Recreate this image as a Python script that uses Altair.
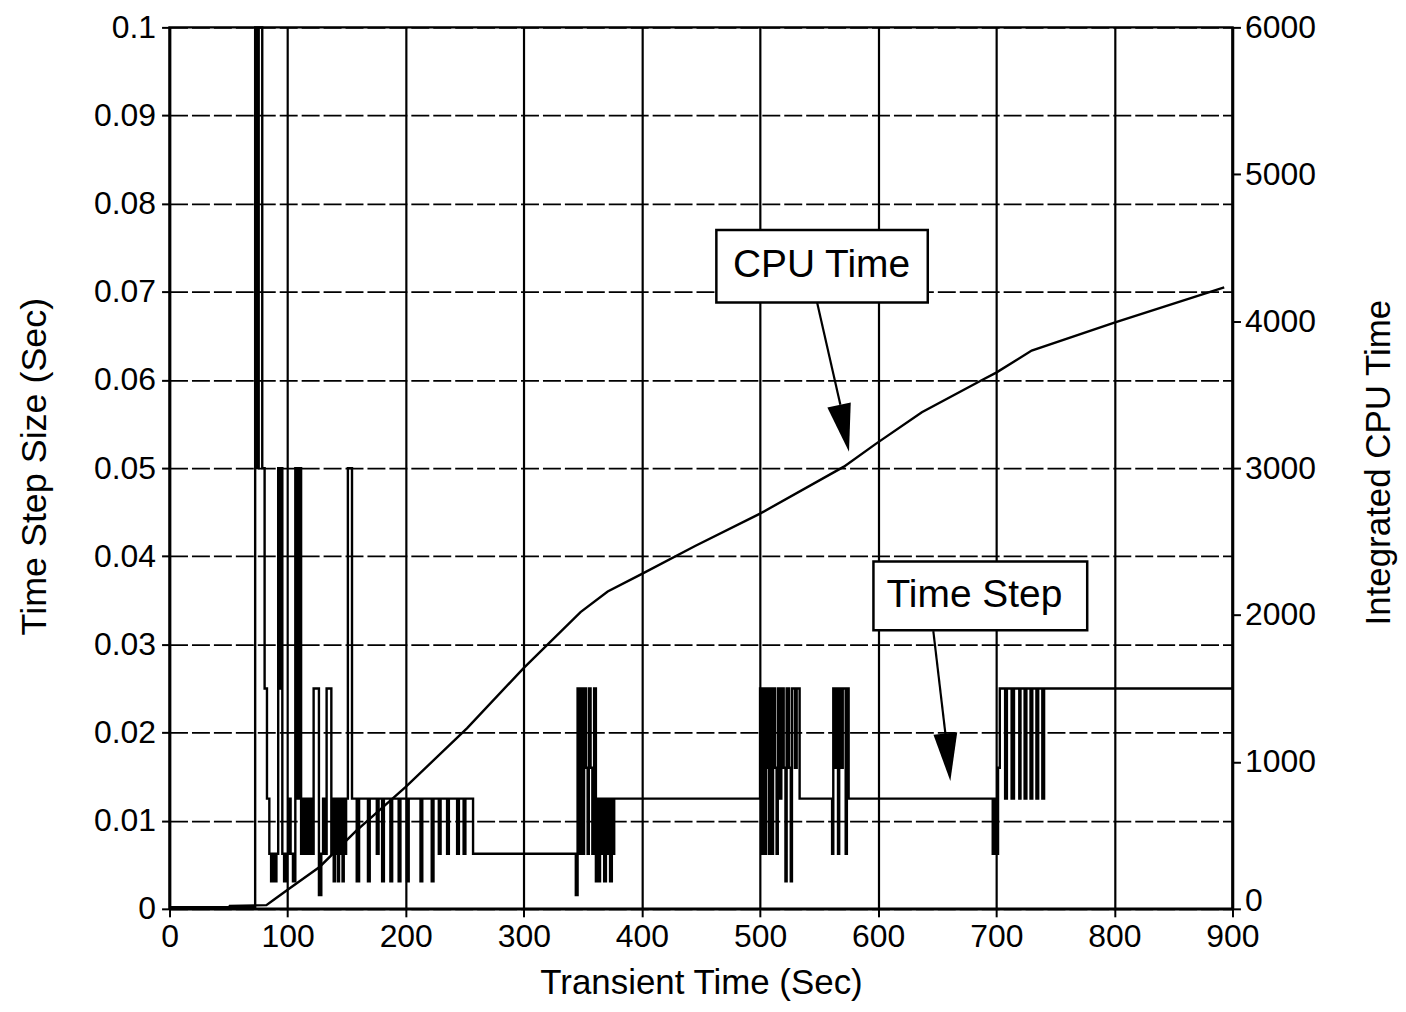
import altair as alt
import pandas as pd

# ---------------- data ----------------
step_t = [0, 72.5, 74.5, 75.5, 78.5, 80.5, 82.5, 84.5, 86, 87.5, 89, 90.5,
          92, 93.5, 94, 95.5, 97, 99, 101, 102.5, 104.5, 106.5, 108, 108.8,
          110, 110.6, 111.4, 112.5, 114, 115.5, 117, 118.5, 120, 122, 126.5,
          128.5, 130, 131.5, 133, 137, 138, 139, 140, 141, 141.8, 142.5,
          143.5, 144.5, 145.5, 146.5, 147.5, 148.5, 149.5, 151, 154.5,
          158.5, 160.5, 168, 169.5, 175.5, 177, 180, 181.5, 187, 188.5, 194,
          195.5, 201, 202.5, 212.5, 214, 222, 223.5, 228, 229.5, 235, 236.5,
          243.5, 245, 249, 250.5, 257,
          344, 345.5, 347.5, 348.5, 350, 351, 352.5, 354, 355, 356.5, 358,
          359.5, 361, 362, 363.5, 364.5, 366, 367, 368, 369.5, 371, 372, 373,
          374.5, 375.5, 376.5,
          500, 501.5, 502.5, 504, 505, 506.5, 507.5, 508.5, 510, 511, 512.5,
          514, 515, 517, 518, 520, 521.5, 522.5, 524.5, 526, 527, 529.5, 531,
          533.5, 561, 562, 563.5, 564.5, 566, 567, 569, 570, 572.5, 573.5, 575,
          697, 699, 700, 701.5, 703, 707.5, 709, 713, 715, 719.5, 720.5, 724,
          725.5, 729, 730.5, 734, 735.5, 739, 740.5, 900]
step_v = [0.0002, 0.1, 0.05, 0.1, 0.05, 0.025, 0.0125, 0.00625, 0.003125,
          0.00625, 0.003125, 0.00625,
          0.05, 0.025, 0.05, 0.00625, 0.003125, 0.00625, 0.0125, 0.00625,
          0.003125, 0.05, 0.0125, 0.05,
          0.0125, 0.05, 0.00625, 0.0125, 0.00625, 0.0125, 0.00625, 0.0125,
          0.00625, 0.025, 0.0015625,
          0.00625, 0.0125, 0.00625, 0.025, 0.00625, 0.0125, 0.003125, 0.0125,
          0.00625, 0.0125, 0.003125,
          0.0125, 0.00625, 0.0125, 0.003125, 0.0125, 0.00625, 0.0125, 0.05,
          0.0125,
          0.003125, 0.0125, 0.003125, 0.0125, 0.00625, 0.0125, 0.003125,
          0.0125, 0.003125, 0.0125, 0.003125,
          0.0125, 0.003125, 0.0125, 0.003125, 0.0125, 0.003125, 0.0125,
          0.00625, 0.0125, 0.00625, 0.0125,
          0.00625, 0.0125, 0.00625, 0.0125, 0.00625,
          0.0015625, 0.025, 0.00625, 0.025, 0.00625, 0.025, 0.016, 0.00625,
          0.025, 0.016, 0.00625,
          0.025, 0.003125, 0.0125, 0.003125, 0.0125, 0.00625, 0.0125,
          0.003125, 0.0125, 0.00625, 0.0125, 0.003125,
          0.0125, 0.00625, 0.0125,
          0.025, 0.00625, 0.025, 0.00625, 0.025, 0.016, 0.00625, 0.025,
          0.00625, 0.025, 0.016,
          0.00625, 0.025, 0.0125, 0.025, 0.016, 0.003125, 0.025, 0.016,
          0.003125, 0.025, 0.016, 0.025,
          0.0125, 0.00625, 0.025, 0.016, 0.025, 0.00625, 0.025, 0.016, 0.025,
          0.00625, 0.025, 0.0125,
          0.00625, 0.0125, 0.00625, 0.016, 0.025, 0.0125, 0.025, 0.0125,
          0.025, 0.0125, 0.025, 0.0125,
          0.025, 0.0125, 0.025, 0.0125, 0.025, 0.0125, 0.025, 0.025]

cpu_t = [0, 50, 51, 82, 88, 100, 127, 158, 200, 252, 300, 348, 371, 400,
         445, 500, 571, 598, 637, 688, 700, 730, 800, 893]
cpu_v = [0, 5, 20, 25, 60, 130, 285, 530, 830, 1230, 1640, 2020, 2160, 2280,
         2470, 2690, 3010, 3165, 3380, 3600, 3650, 3800, 3990, 4230]

x_ticks = [0, 100, 200, 300, 400, 500, 600, 700, 800, 900]
left_ticks = [0, 0.01, 0.02, 0.03, 0.04, 0.05, 0.06, 0.07, 0.08, 0.09, 0.1]
right_ticks = [0, 1000, 2000, 3000, 4000, 5000, 6000]

# annotation boxes (data units of x and left axis)
box_label = ["CPU Time", "Time Step"]
box_x1 = [463, 596]
box_x2 = [642, 777]
box_y1 = [0.0688, 0.0316]
box_y2 = [0.0770, 0.0394]
box_tx = [552, 681.5]
box_ty = [0.0730, 0.0356]
arrow_x1 = [548.3, 646.7]
arrow_y1 = [0.0688, 0.0315]
arrow_x2 = [568.0, 657.0]
arrow_y2 = [0.0572, 0.0198]
head_x = [571.1, 659.0]
head_y = [0.0545, 0.0172]
head_ang = [348, 354]

FONT = "Liberation Sans, Arial, Helvetica, sans-serif"

step_df = pd.DataFrame({"t": step_t, "dt": step_v})
cpu_df = pd.DataFrame({"t": cpu_t, "cpu": cpu_v})
box_df = pd.DataFrame({"label": box_label, "x1": box_x1, "x2": box_x2,
                       "y1": box_y1, "y2": box_y2, "tx": box_tx, "ty": box_ty})
arr_df = pd.DataFrame({"x1": arrow_x1, "y1": arrow_y1, "x2": arrow_x2,
                       "y2": arrow_y2, "hx": head_x, "hy": head_y,
                       "ang": head_ang})

xs = alt.Scale(domain=[0, 900], nice=False, zero=False)
yl = alt.Scale(domain=[0, 0.1], nice=False)
yr = alt.Scale(domain=[0, 6000], nice=False)

x_axis = alt.Axis(values=x_ticks, title="Transient Time (Sec)", grid=True,
                  gridColor="black", gridWidth=2.2, gridOpacity=1,
                  domainColor="black", domainWidth=2.5, tickColor="black",
                  tickSize=8, tickWidth=2, labelFont=FONT, labelFontSize=32,
                  labelColor="black", labelPadding=5, labelFlush=False,
                  titleFont=FONT, titleFontSize=35, titleFontWeight="normal",
                  titleColor="black", titleX=533, titleY=74,
                  titleBaseline="middle", titleAlign="center")

left_axis = alt.Axis(values=left_ticks, format="~g",
                     title="Time Step Size (Sec)", grid=True,
                     gridColor="black", gridWidth=1.8, gridOpacity=1,
                     gridDash=[18, 4], domainColor="black", domainWidth=2.5,
                     tickColor="black", tickSize=8, tickWidth=2,
                     labelFont=FONT, labelFontSize=32, labelColor="black",
                     labelPadding=6, titleFont=FONT, titleFontSize=36,
                     titleFontWeight="normal", titleColor="black",
                     titleAngle=270, titleX=-135, titleY=440,
                     titleBaseline="middle", titleAlign="center")

right_axis = alt.Axis(values=right_ticks, format="d", orient="right",
                      title="Integrated CPU Time", grid=False,
                      domainColor="black", domainWidth=2.5,
                      tickColor="black", tickSize=8, tickWidth=2,
                      labelFont=FONT, labelFontSize=32, labelColor="black",
                      labelPadding=4,
                      labelOffset={"condition": {"test": "datum.value === 0",
                                                 "value": -8},
                                   "value": 0},
                      titleFont=FONT, titleFontSize=35,
                      titleFontWeight="normal", titleColor="black",
                      titleAngle=270, titleX=146, titleY=436,
                      titleBaseline="middle", titleAlign="center")

step_line = alt.Chart(step_df).mark_line(
    color="black", strokeWidth=2.4, interpolate="step-after"
).encode(
    x=alt.X("t:Q", scale=xs, axis=x_axis),
    y=alt.Y("dt:Q", scale=yl, axis=left_axis),
)

boxes = alt.Chart(box_df).mark_rect(
    fill="white", stroke="black", strokeWidth=2.5
).encode(
    x=alt.X("x1:Q", scale=xs, axis=x_axis), x2="x2:Q",
    y=alt.Y("y1:Q", scale=yl, axis=left_axis), y2="y2:Q",
)

texts = alt.Chart(box_df).mark_text(
    font=FONT, fontSize=39, color="black", align="center", baseline="middle"
).encode(
    x=alt.X("tx:Q", scale=xs, axis=x_axis),
    y=alt.Y("ty:Q", scale=yl, axis=left_axis),
    text="label:N",
)

shafts = alt.Chart(arr_df).mark_rule(color="black", strokeWidth=2.2).encode(
    x=alt.X("x1:Q", scale=xs, axis=x_axis), x2="x2:Q",
    y=alt.Y("y1:Q", scale=yl, axis=left_axis), y2="y2:Q",
)

heads = alt.Chart(arr_df).mark_point(
    shape="M-0.5,-1L0.5,-1L0,1Z", filled=True, color="black", opacity=1,
    size=2300, strokeWidth=0
).encode(
    x=alt.X("hx:Q", scale=xs, axis=x_axis),
    y=alt.Y("hy:Q", scale=yl, axis=left_axis),
    angle=alt.Angle("ang:Q", scale=None),
)

left_layer = alt.layer(step_line, boxes, texts, shafts, heads)

cpu_line = alt.Chart(cpu_df).mark_line(color="black", strokeWidth=2.4).encode(
    x=alt.X("t:Q", scale=xs, axis=x_axis),
    y=alt.Y("cpu:Q", scale=yr, axis=right_axis),
)

chart = alt.layer(left_layer, cpu_line).resolve_scale(y="independent").properties(
    width=1066, height=884,
    autosize=alt.AutoSizeParams(type="none"),
    padding={"left": 162, "top": 18, "right": 166, "bottom": 92},
    background="white",
).configure_view(stroke="black", strokeWidth=2.5)

chart.save("out.html", embed_options={"renderer": "svg", "actions": False})
